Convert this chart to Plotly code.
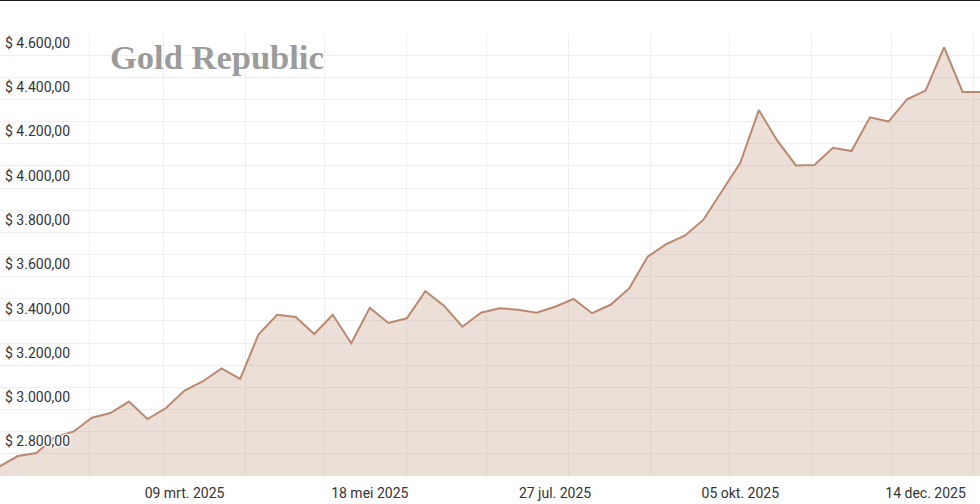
import pandas as pd
import plotly.graph_objects as go

# Weekly gold price (USD/oz)
prices = [2642, 2690, 2704, 2776, 2800, 2863, 2884, 2936, 2857, 2907,
          2986, 3028, 3086, 3038, 3240, 3328, 3318, 3241, 3328, 3199,
          3359, 3291, 3312, 3434, 3369, 3274, 3337, 3357, 3351, 3337,
          3364, 3399, 3335, 3373, 3447, 3590, 3647, 3685, 3756, 3885,
          4014, 4252, 4114, 4002, 4004, 4082, 4067, 4219, 4200, 4301,
          4340, 4535, 4334, 4334]
dates = pd.date_range("2024-12-29", periods=len(prices), freq="7D")

x_tick_vals = ["2025-03-09", "2025-05-18", "2025-07-27", "2025-10-05", "2025-12-14"]
x_tick_text = ["09 mrt. 2025", "18 mei 2025", "27 jul. 2025", "05 okt. 2025", "14 dec. 2025"]

y_tick_vals = [2800, 3000, 3200, 3400, 3600, 3800, 4000, 4200, 4400, 4600]
y_tick_text = ["$ 2.800,00", "$ 3.000,00", "$ 3.200,00", "$ 3.400,00", "$ 3.600,00",
               "$ 3.800,00", "$ 4.000,00", "$ 4.200,00", "$ 4.400,00", "$ 4.600,00"]

LINE = "rgb(185,137,112)"
FILL = "rgba(185,137,112,0.27)"
GRID = "#efefef"
HALO = "1px 1px 1px white, -1px -1px 1px white, 1px -1px 1px white, -1px 1px 1px white, 0 0 2px white"

fig = go.Figure()
fig.add_trace(go.Scatter(
    x=dates, y=prices, mode="lines",
    line=dict(color=LINE, width=2),
    fill="tozeroy", fillcolor=FILL,
    hoverinfo="skip", showlegend=False,
))

fig.update_layout(
    width=980, height=504,
    margin=dict(l=0, r=0, t=33, b=28),
    paper_bgcolor="white", plot_bgcolor="white",
    font=dict(family="Roboto", color="#333333"),
    xaxis=dict(
        type="date",
        range=["2024-12-29 06:40", "2026-01-03 13:40"],
        tickmode="array", tickvals=x_tick_vals, ticktext=x_tick_text,
        showgrid=False, zeroline=False, showline=False,
        ticks="", ticklabelstandoff=7,
        tickfont=dict(size=14, color="#333333"),
        minor=dict(tickmode="linear", tick0="2025-01-01", dtick="M1",
                   showgrid=True, gridcolor=GRID, gridwidth=1, ticks=""),
    ),
    yaxis=dict(
        range=[2600, 4600],
        tickmode="array", tickvals=y_tick_vals, ticktext=y_tick_text,
        ticklabelposition="inside bottom", ticklabelstandoff=2,
        showgrid=True, gridcolor=GRID, gridwidth=1,
        zeroline=False, showline=False, ticks="",
        tickfont=dict(size=14, color="#333333", shadow=HALO),
        minor=dict(tickmode="linear", tick0=2600, dtick=100,
                   showgrid=True, gridcolor=GRID, gridwidth=1, ticks=""),
    ),
    shapes=[dict(type="rect", xref="paper", yref="paper",
                 x0=0, x1=1, y0=1 + 32 / 443, y1=1 + 33 / 443,
                 fillcolor="#161b26", line=dict(width=0), layer="above")],
    annotations=[dict(text="Gold Republic", xref="paper", yref="paper",
                      x=108 / 980, y=1 - 24 / 443, xanchor="left", yanchor="middle",
                      showarrow=False,
                      font=dict(family="Liberation Serif", size=34.5, color="#9b9b9b",
                                weight="bold"))],
)

fig.write_html("out.html", config={"displayModeBar": False},
               post_script="document.body.style.margin='0';")
